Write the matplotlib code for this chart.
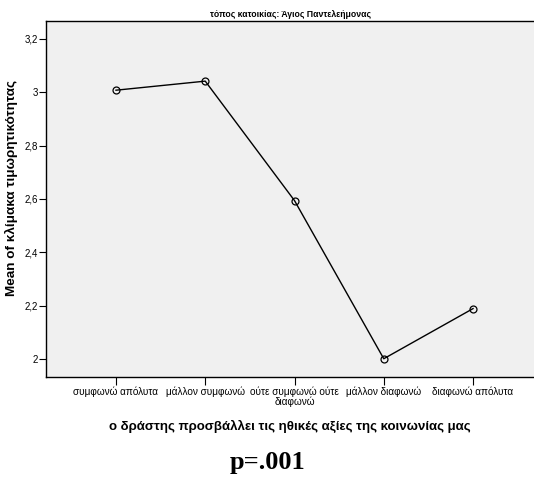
import matplotlib.pyplot as plt
from matplotlib.ticker import FuncFormatter

############################################
# DATA
############################################

categories = ["συμφωνώ απόλυτα", "μάλλον συμφωνώ", "ούτε συμφωνώ ούτε\nδιαφωνώ",
              "μάλλον διαφωνώ", "διαφωνώ απόλυτα"]
means = [3.008, 3.042, 2.594, 2.001, 2.189]
yticks = [2.0, 2.2, 2.4, 2.6, 2.8, 3.0, 3.2]

TITLE = "τόπος κατοικίας: Άγιος Παντελεήμονας"
XLABEL = "ο δράστης προσβάλλει τις ηθικές αξίες της κοινωνίας μας"
YLABEL = "Mean of κλίμακα τιμωρητικότητας"
PTEXT = "p=.001"

############################################
# PLOT
############################################

plt.rcParams['font.family'] = ['Liberation Sans', 'DejaVu Sans']

fig = plt.figure(figsize=(5.34, 4.79), dpi=100)
ax = fig.add_axes([46/534, 1-377/479, 1-46/534, (377-21)/479])
ax.set_facecolor("#f0f0f0")

x = list(range(1, len(categories) + 1))
ax.plot(x, means, color="black", lw=1.0, marker="o", ms=5,
        mfc="none", mec="black", mew=0.9)

ax.set_xlim(0.216, 5.683)
ax.set_ylim(1.9325, 3.2675)
ax.set_xticks(x)
ax.set_xticklabels(categories, fontsize=7.2, linespacing=0.95)
ax.set_yticks(yticks)
ax.yaxis.set_major_formatter(FuncFormatter(
    lambda v, p: (f"{v:.1f}".rstrip("0").rstrip(".")).replace(".", ",")))
ax.tick_params(axis="y", labelsize=7, length=5, width=0.8, pad=1)
ax.tick_params(axis="x", length=6, width=0.8, pad=1)

for s in ["left", "bottom", "top"]:
    ax.spines[s].set_linewidth(1.0)
ax.spines["right"].set_visible(False)

ax.set_title(TITLE, fontsize=6.2, fontweight="bold", pad=3)
ax.set_ylabel(YLABEL, fontsize=9.7, fontweight="bold")
ax.yaxis.set_label_coords(-0.057, 0.531)
ax.set_xlabel(XLABEL, fontsize=9.5, fontweight="bold", labelpad=9)

fig.text(268/534, 1-463/479, PTEXT, ha="center", va="center",
         fontsize=19, fontweight="bold", family="Liberation Serif")

fig.savefig("out.png", dpi=100)
